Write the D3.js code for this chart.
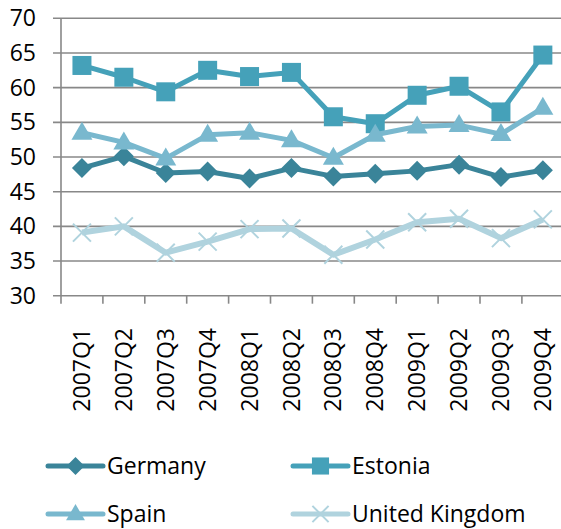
<!DOCTYPE html>
<html>
  <head>
    <title>Quarterly series</title>
    <script src="https://cdn.jsdelivr.net/npm/d3@7"></script>
    <style>
      body, html { margin: 0; padding: 0; background: #fff; }
      text { font-family: "Open Sans", sans-serif; fill: #000; }
    </style>
  </head>
  <body>
    <svg id="svg" width="561" height="529"></svg>
    <script>
      // categories and values
      const quarters = ["2007Q1", "2007Q2", "2007Q3", "2007Q4", "2008Q1", "2008Q2",
                        "2008Q3", "2008Q4", "2009Q1", "2009Q2", "2009Q3", "2009Q4"];
      const germany = [48.4, 50.1, 47.7, 47.9, 46.9, 48.4, 47.2, 47.6, 48.0, 48.9, 47.1, 48.1];
      const estonia = [63.2, 61.5, 59.4, 62.5, 61.6, 62.2, 55.8, 54.8, 58.9, 60.2, 56.5, 64.7];
      const spain = [53.5, 52.1, 49.8, 53.2, 53.5, 52.4, 49.9, 53.2, 54.4, 54.6, 53.3, 57.1];
      const uk = [39.1, 40.0, 36.2, 37.8, 39.6, 39.7, 35.9, 38.1, 40.6, 41.1, 38.3, 41.0];
      const yTicks = [30, 35, 40, 45, 50, 55, 60, 65, 70];

      const series = [
        { name: "Germany", values: germany, color: "#3a8499", marker: "diamond", width: 5 },
        { name: "Estonia", values: estonia, color: "#45a1b9", marker: "square", width: 5 },
        { name: "Spain", values: spain, color: "#79b8ce", marker: "triangle", width: 5 },
        { name: "United Kingdom", values: uk, color: "#b0d3de", marker: "x", width: 6 }
      ];

      const plotLeft = 61;
      const plotTop = 18.3;
      const plotBottom = 295.7;
      const step = 41.9;
      const fontSize = 23;

      const x = d3.scaleBand()
        .domain(quarters)
        .range([plotLeft, plotLeft + step * quarters.length]);

      const y = d3.scaleLinear()
        .domain([30, 70])
        .range([plotBottom, plotTop]);

      const svg = d3.select("#svg");
      const gridColor = "#888888";

      // horizontal gridlines
      svg.append("g")
        .selectAll("line")
        .data(yTicks)
        .join("line")
        .attr("x1", plotLeft - 8)
        .attr("x2", 561)
        .attr("y1", d => y(d))
        .attr("y2", d => y(d))
        .attr("stroke", gridColor)
        .attr("stroke-width", 1.6);

      // y labels
      svg.append("g")
        .selectAll("text")
        .data(yTicks)
        .join("text")
        .attr("x", 36)
        .attr("y", d => y(d))
        .attr("dy", "0.35em")
        .attr("text-anchor", "end")
        .attr("font-size", fontSize)
        .text(d => d);

      // vertical axis line
      svg.append("line")
        .attr("x1", plotLeft).attr("x2", plotLeft)
        .attr("y1", plotTop).attr("y2", plotBottom)
        .attr("stroke", gridColor)
        .attr("stroke-width", 1.6);

      // x axis ticks between categories
      const tickPos = quarters.map(q => x(q)).concat([x(quarters[11]) + x.bandwidth()]);
      svg.append("g")
        .selectAll("line")
        .data(tickPos)
        .join("line")
        .attr("x1", d => d).attr("x2", d => d)
        .attr("y1", plotBottom).attr("y2", plotBottom + 8)
        .attr("stroke", gridColor)
        .attr("stroke-width", 1.6);

      // rotated x labels
      svg.append("g")
        .selectAll("text")
        .data(quarters)
        .join("text")
        .attr("transform", d => `translate(${x(d) + x.bandwidth() / 2}, 328) rotate(-90)`)
        .attr("dy", "0.35em")
        .attr("text-anchor", "end")
        .attr("font-size", fontSize)
        .text(d => d);

      function drawMarker(g, type, color, cx, cy, scale) {
        const s = scale || 1;
        if (type === "diamond") {
          const r = 10 * s;
          g.append("path")
            .attr("d", `M${cx},${cy - r}L${cx + r},${cy}L${cx},${cy + r}L${cx - r},${cy}Z`)
            .attr("fill", color);
        } else if (type === "square") {
          const h = 9.5 * s;
          g.append("rect")
            .attr("x", cx - h).attr("y", cy - h)
            .attr("width", 2 * h).attr("height", 2 * h)
            .attr("fill", color);
        } else if (type === "triangle") {
          const w = 10.5 * s;
          g.append("path")
            .attr("d", `M${cx},${cy - 11 * s}L${cx + w},${cy + 7 * s}L${cx - w},${cy + 7 * s}Z`)
            .attr("fill", color);
        } else {
          const r = 9 * s;
          g.append("path")
            .attr("d", `M${cx - r},${cy - r}L${cx + r},${cy + r}M${cx + r},${cy - r}L${cx - r},${cy + r}`)
            .attr("stroke", color)
            .attr("stroke-width", 2)
            .attr("fill", "none");
        }
      }

      const linegen = d3.line()
        .x((d, i) => x(quarters[i]) + x.bandwidth() / 2)
        .y(d => y(d));

      series.forEach(s => {
        const g = svg.append("g");
        g.append("path")
          .attr("d", linegen(s.values))
          .attr("stroke", s.color)
          .attr("stroke-width", s.width)
          .attr("stroke-linejoin", "round")
          .attr("fill", "none");
        s.values.forEach((v, i) => {
          drawMarker(g, s.marker, s.color, x(quarters[i]) + x.bandwidth() / 2, y(v));
        });
      });

      // legend
      const legendPos = [[48, 466], [293, 466], [48, 514], [293, 514]];
      series.forEach((s, i) => {
        const [lx, ly] = legendPos[i];
        const g = svg.append("g");
        g.append("line")
          .attr("x1", lx).attr("x2", lx + 55)
          .attr("y1", ly).attr("y2", ly)
          .attr("stroke", s.color)
          .attr("stroke-width", 5)
          .attr("stroke-linecap", "round");
        drawMarker(g, s.marker, s.color, lx + 27.5, ly, 0.9);
        g.append("text")
          .attr("x", lx + 59)
          .attr("y", ly)
          .attr("dy", "0.35em")
          .attr("font-size", fontSize)
          .text(s.name);
      });
    </script>
  </body>
</html>
